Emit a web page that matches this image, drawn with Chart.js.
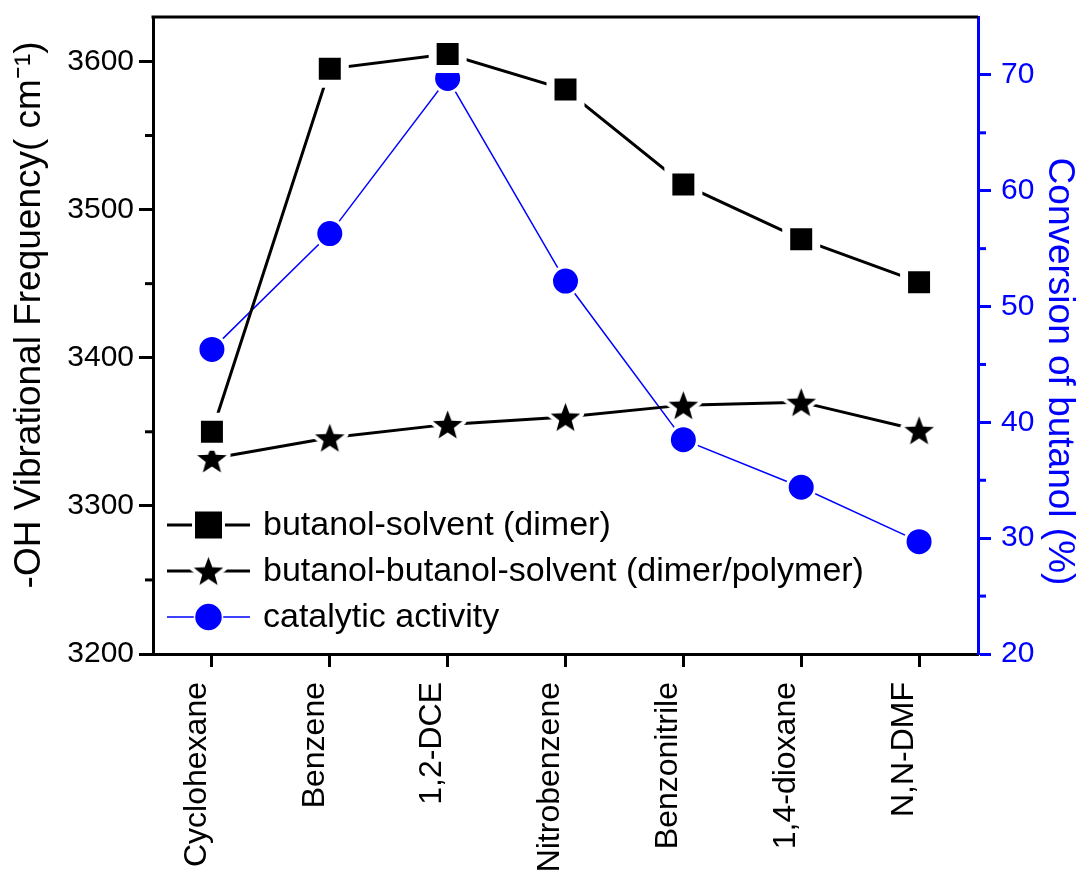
<!DOCTYPE html>
<html>
<head>
<meta charset="utf-8">
<script src="https://cdn.jsdelivr.net/npm/chart.js@4.4.0/dist/chart.umd.min.js"></script>
<style>
  html, body { margin: 0; padding: 0; background: #fff; }
  #wrap { width: 1081px; height: 876px; position: relative; }
</style>
</head>
<body>
<div id="wrap"><canvas id="chart"></canvas></div>
<script>
const solvents = ['Cyclohexane', 'Benzene', '1,2-DCE', 'Nitrobenzene', 'Benzonitrile', '1,4-dioxane', 'N,N-DMF'];
const dimerFreq = [3350, 3595, 3605, 3581, 3517, 3480, 3451];
const polymerFreq = [3332, 3346, 3355, 3360, 3368, 3370, 3351];
const conversion = [46.3, 56.3, 69.7, 52.2, 38.5, 34.4, 29.7];

const freqTicks = [3200, 3300, 3400, 3500, 3600];
const freqMinor = [3250, 3350, 3450, 3550];
const convTicks = [20, 30, 40, 50, 60, 70];
const convMinor = [25, 35, 45, 55, 65];

const FONT = "'Liberation Sans', Arial, sans-serif";
const BLUE = '#0000ff';

// filled 5 point star with a white halo round it (origin style gap)
function makeStar(r, halo) {
  const size = Math.ceil((r + halo) * 2 + 2);
  const c = document.createElement('canvas');
  c.width = c.height = size;
  const g = c.getContext('2d');
  const cx = size / 2, cy = size / 2 + r * 0.095;
  g.beginPath();
  for (let i = 0; i < 10; i++) {
    const rad = i % 2 ? r * 0.42 : r;
    const a = -Math.PI / 2 + i * Math.PI / 5;
    g.lineTo(cx + rad * Math.cos(a), cy + rad * Math.sin(a));
  }
  g.closePath();
  g.lineJoin = 'round';
  g.lineWidth = halo * 2;
  g.strokeStyle = '#fff';
  g.stroke();
  g.fillStyle = '#000';
  g.fill();
  return c;
}
const starImg = makeStar(15.5, 4);

// no extra padding from tick label overhang
const noPad = s => { s.paddingTop = 0; s.paddingBottom = 0; s.paddingLeft = 0; s.paddingRight = 0; };

// top frame line + minor ticks on both y axes
const framePlugin = {
  id: 'frame',
  afterDraw(chart) {
    const { ctx, chartArea: a, scales } = chart;
    ctx.save();
    ctx.lineWidth = 3;
    ctx.strokeStyle = '#000';
    ctx.beginPath();
    ctx.moveTo(a.left - 1.5, a.top);
    ctx.lineTo(a.right, a.top);
    ctx.stroke();
    freqMinor.forEach(v => {
      const y = scales.y.getPixelForValue(v);
      ctx.beginPath();
      ctx.moveTo(a.left - 8, y);
      ctx.lineTo(a.left, y);
      ctx.stroke();
    });
    ctx.strokeStyle = BLUE;
    convMinor.forEach(v => {
      const y = scales.y1.getPixelForValue(v);
      ctx.beginPath();
      ctx.moveTo(a.right, y);
      ctx.lineTo(a.right + 8, y);
      ctx.stroke();
    });
    ctx.restore();
  }
};

// legend inside the plot, line + marker like the datasets
const legendPlugin = {
  id: 'innerLegend',
  afterDraw(chart) {
    const { ctx, chartArea: a } = chart;
    const rows = [a.bottom - 129, a.bottom - 83, a.bottom - 37];
    ctx.save();
    chart.data.datasets.forEach((ds, i) => {
      const y = rows[i];
      const x0 = a.left + 14, x1 = a.left + 97, xm = (x0 + x1) / 2;
      ctx.strokeStyle = ds.borderColor;
      ctx.lineWidth = ds.borderWidth;
      ctx.beginPath();
      ctx.moveTo(x0, y);
      ctx.lineTo(x1, y);
      ctx.stroke();
      ctx.fillStyle = ds.pointBackgroundColor || '#000';
      ctx.strokeStyle = ds.pointBorderColor || '#fff';
      Chart.helpers.drawPoint(ctx, {
        pointStyle: ds.pointStyle,
        radius: ds.pointRadius,
        borderWidth: ds.pointBorderWidth || 0,
        rotation: 0
      }, xm, y);
      ctx.fillStyle = '#000';
      ctx.font = '34px ' + FONT;
      ctx.textBaseline = 'middle';
      ctx.textAlign = 'left';
      ctx.fillText(ds.label, a.left + 110, y + 1);
    });
    ctx.restore();
  }
};

new Chart(document.getElementById('chart'), {
  type: 'line',
  data: {
    labels: solvents,
    datasets: [
      {
        label: 'butanol-solvent (dimer)',
        data: dimerFreq,
        yAxisID: 'y',
        borderColor: '#000',
        borderWidth: 3,
        pointStyle: 'rect',
        pointRadius: 21.2,
        pointHoverRadius: 21.2,
        pointBackgroundColor: '#000',
        pointBorderColor: '#fff',
        pointBorderWidth: 8,
        pointHoverBorderWidth: 8
      },
      {
        label: 'butanol-butanol-solvent (dimer/polymer)',
        data: polymerFreq,
        yAxisID: 'y',
        borderColor: '#000',
        borderWidth: 3,
        pointStyle: starImg,
        pointRadius: 16,
        pointHoverRadius: 16,
        pointBackgroundColor: '#000',
        pointBorderWidth: 0
      },
      {
        label: 'catalytic activity',
        data: conversion,
        yAxisID: 'y1',
        borderColor: BLUE,
        borderWidth: 1.5,
        pointStyle: 'circle',
        pointRadius: 14,
        pointHoverRadius: 14,
        pointBackgroundColor: BLUE,
        pointBorderColor: '#fff',
        pointBorderWidth: 3,
        pointHoverBorderWidth: 3
      }
    ]
  },
  options: {
    animation: false,
    responsive: true,
    maintainAspectRatio: false,
    layout: { autoPadding: false, padding: { top: 17, left: 0, right: 0, bottom: 0 } },
    plugins: {
      legend: { display: false },
      tooltip: { enabled: false }
    },
    scales: {
      x: {
        type: 'category',
        offset: true,
        border: { color: '#000', width: 3 },
        grid: { drawOnChartArea: false, drawTicks: true, tickLength: 13, tickWidth: 3, tickColor: '#000' },
        ticks: {
          color: '#000',
          font: { family: FONT, size: 32 },
          minRotation: 90,
          maxRotation: 90,
          autoSkip: false,
          padding: 15,
          labelOffset: -15
        },
        afterFit: s => { s.height = 222; noPad(s); }
      },
      y: {
        position: 'left',
        min: 3200,
        max: 3630,
        border: { color: '#000', width: 3 },
        grid: { drawOnChartArea: false, drawTicks: true, tickLength: 14, tickWidth: 3, tickColor: '#000' },
        ticks: { color: '#000', font: { family: FONT, size: 30 }, padding: 5, callback: v => String(v) },
        afterBuildTicks: s => { s.ticks = freqTicks.map(v => ({ value: v })); },
        title: {
          display: true,
          text: '    -OH Vibrational Frequency( cm\u207B\u00B9)',
          color: '#000',
          font: { family: FONT, size: 37 },
          padding: { top: 8, bottom: 0 }
        },
        afterFit: s => { s.width = 153; noPad(s); }
      },
      y1: {
        position: 'right',
        min: 20,
        max: 75,
        border: { color: BLUE, width: 3 },
        grid: { drawOnChartArea: false, drawTicks: true, tickLength: 13, tickWidth: 3, tickColor: BLUE },
        ticks: { color: BLUE, font: { family: FONT, size: 30 }, padding: 10, callback: v => String(v) },
        afterBuildTicks: s => { s.ticks = convTicks.map(v => ({ value: v })); },
        title: {
          display: true,
          text: '       Conversion of butanol (%)',
          color: BLUE,
          font: { family: FONT, size: 37 },
          padding: { top: 0, bottom: 0 }
        },
        afterFit: s => { s.width = 103; noPad(s); }
      }
    }
  },
  plugins: [framePlugin, legendPlugin]
});
</script>
</body>
</html>
